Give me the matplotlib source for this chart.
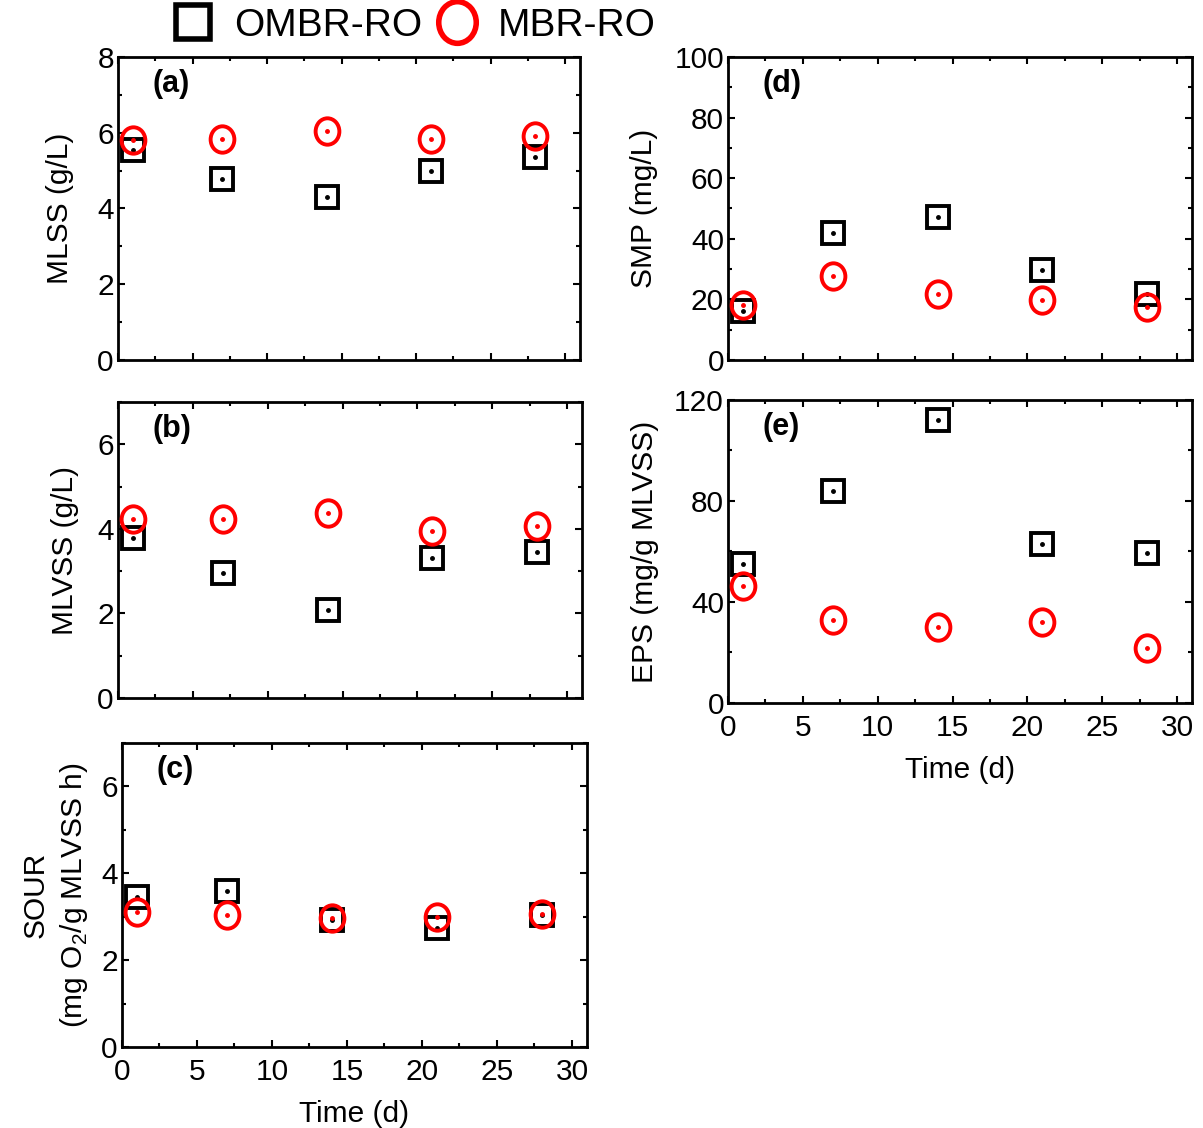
import matplotlib
matplotlib.use('Agg')
import matplotlib.pyplot as plt
import numpy as np
from matplotlib.path import Path
from matplotlib.transforms import Affine2D
from matplotlib.ticker import MultipleLocator
from matplotlib.lines import Line2D

plt.rcParams['font.family'] = ['Liberation Sans', 'DejaVu Sans']
plt.rcParams['mathtext.fontset'] = 'custom'
plt.rcParams['mathtext.rm'] = 'Liberation Sans'

# sampling days
days = [1, 7, 14, 21, 28]

# MLSS (g/L)
mlss_ombr = [5.54, 4.78, 4.30, 4.99, 5.36]
mlss_mbr = [5.80, 5.83, 6.04, 5.83, 5.91]

# MLVSS (g/L)
mlvss_ombr = [3.79, 2.96, 2.07, 3.32, 3.46]
mlvss_mbr = [4.24, 4.24, 4.38, 3.95, 4.07]

# SOUR (mg O2/g MLVSS h)
sour_ombr = [3.46, 3.60, 2.93, 2.75, 3.05]
sour_mbr = [3.12, 3.05, 2.98, 3.00, 3.07]

# SMP (mg/L)
smp_ombr = [16.2, 41.9, 47.2, 29.7, 21.8]
smp_mbr = [18.2, 27.7, 21.8, 19.8, 17.5]

# EPS (mg/g MLVSS)
eps_ombr = [55.0, 84.0, 112.1, 63.0, 59.4]
eps_mbr = [46.3, 32.9, 30.1, 32.1, 21.8]

# slightly tall ellipse used as the MBR-RO marker
ellipse = Path.unit_circle().transformed(Affine2D().scale(0.9, 1.0))

FS = 21.5


def draw_points(ax, x, y_sq, y_ci):
    ax.plot(x, y_sq, ls='none', marker='s', ms=15.5, mfc='none', mec='black', mew=2.8, zorder=3)
    ax.plot(x, y_sq, ls='none', marker='o', ms=2.5, color='black', zorder=4)
    ax.plot(x, y_ci, ls='none', marker=ellipse, ms=19, mfc='none', mec='#ff0000', mew=2.8, zorder=5)
    ax.plot(x, y_ci, ls='none', marker='o', ms=2.5, color='#ff0000', zorder=6)


def style_axes(ax, ymax, ymajor, show_x, ylabel, tag, lpad=14):
    ax.set_xlim(0, 31)
    ax.set_ylim(0, ymax)
    ax.xaxis.set_major_locator(MultipleLocator(5))
    ax.xaxis.set_minor_locator(MultipleLocator(2.5))
    ax.yaxis.set_major_locator(MultipleLocator(ymajor))
    ax.yaxis.set_minor_locator(MultipleLocator(ymajor / 2))
    ax.tick_params(which='both', direction='in', top=True, right=True, width=1.5)
    ax.tick_params(which='major', length=5, labelsize=FS, pad=3)
    ax.tick_params(axis='x', which='major', pad=8)
    ax.tick_params(which='minor', length=3)
    for s in ax.spines.values():
        s.set_linewidth(2)
    if show_x:
        ax.set_xlabel('Time (d)', fontsize=FS, labelpad=10)
    else:
        ax.tick_params(axis='x', labelbottom=False)
    ax.set_ylabel(ylabel, fontsize=FS, labelpad=lpad, linespacing=1.35)
    ax.text(0.075, 0.91, tag, transform=ax.transAxes, fontsize=22, fontweight='bold',
            va='center', ha='left')


fig = plt.figure(figsize=(12.03, 11.28), dpi=100)

ax_a = fig.add_axes([0.0981, 0.6809, 0.3840, 0.2686])
ax_b = fig.add_axes([0.0981, 0.3812, 0.3857, 0.2624])
ax_c = fig.add_axes([0.1014, 0.0718, 0.3865, 0.2695])
ax_d = fig.add_axes([0.6052, 0.6809, 0.3857, 0.2686])
ax_e = fig.add_axes([0.6052, 0.3768, 0.3857, 0.2686])

draw_points(ax_a, days, mlss_ombr, mlss_mbr)
style_axes(ax_a, 8, 2, False, 'MLSS (g/L)', '(a)', lpad=17)

draw_points(ax_b, days, mlvss_ombr, mlvss_mbr)
style_axes(ax_b, 7, 2, False, 'MLVSS (g/L)', '(b)', lpad=13)

draw_points(ax_c, days, sour_ombr, sour_mbr)
style_axes(ax_c, 7, 2, True, 'SOUR\n(mg O$_2$/g MLVSS h)', '(c)', lpad=8)

draw_points(ax_d, days, smp_ombr, smp_mbr)
style_axes(ax_d, 100, 20, False, 'SMP (mg/L)', '(d)', lpad=12)

draw_points(ax_e, days, eps_ombr, eps_mbr)
style_axes(ax_e, 120, 40, True, 'EPS (mg/g MLVSS)', '(e)', lpad=11)

# legend across the top
h1 = Line2D([], [], ls='none', marker='s', ms=24, mfc='none', mec='black', mew=4)
h2 = Line2D([], [], ls='none', marker=ellipse, ms=30, mfc='none', mec='#ff0000', mew=4)
fig.legend([h1, h2], ['OMBR-RO', 'MBR-RO'], loc='center', bbox_to_anchor=(0.343, 0.977),
           ncol=2, frameon=False, fontsize=28, handletextpad=0.45, columnspacing=0.3,
           handlelength=1.2)

fig.savefig('out.png', dpi=100)
